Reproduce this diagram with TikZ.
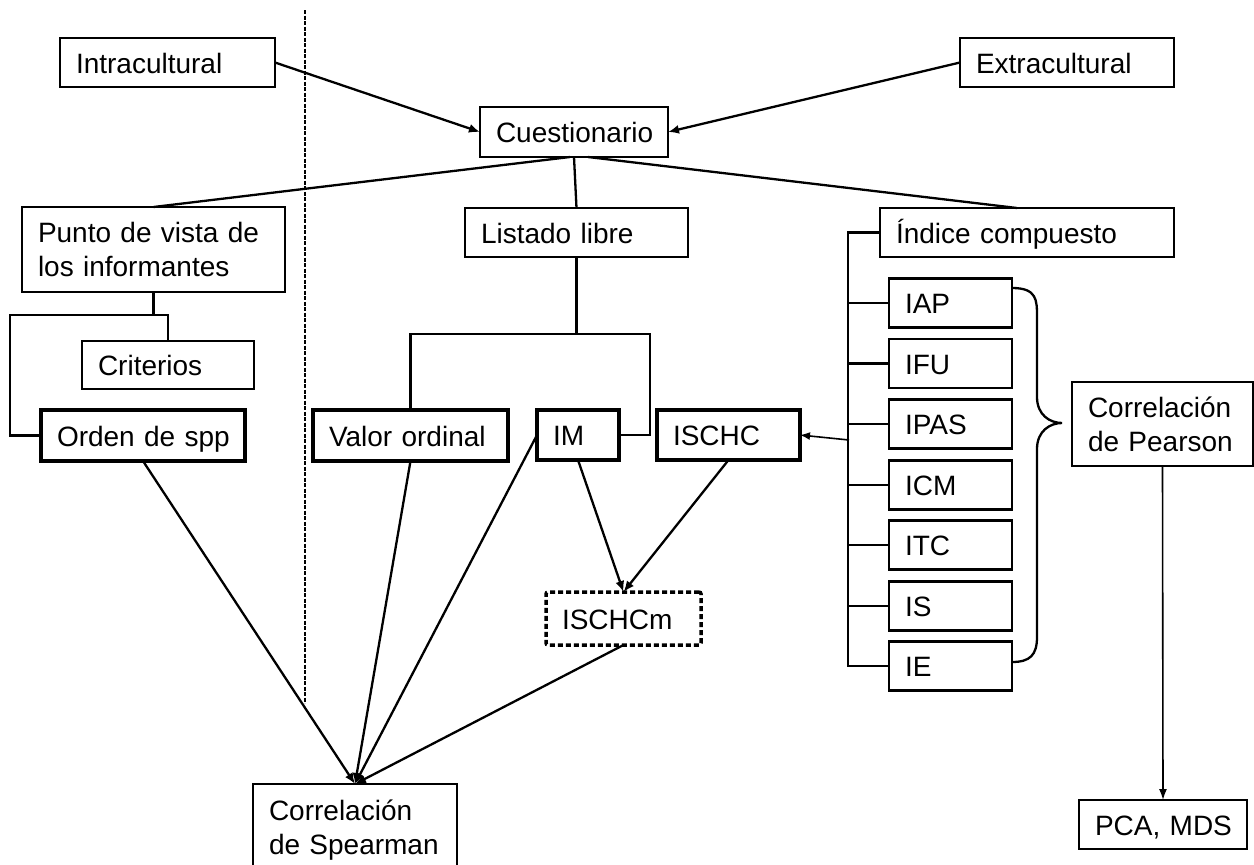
\documentclass[tikz,border=0pt]{standalone}
\usepackage{fontspec}
\setmainfont{Liberation Sans}
\usetikzlibrary{arrows.meta,calc}
\begin{document}
\begin{tikzpicture}[x=1pt,y=-1pt,
  bx/.style={draw, line width=2.3pt, rectangle, outer sep=0pt, inner xsep=16pt, inner ysep=0pt,
    align=left, font=\fontsize{28}{34}\selectfont},
  one/.style={text height=27pt, text depth=6pt},
  thickbx/.style={bx, one, line width=3.2pt},
  idxbx/.style={bx, one, line width=2.6pt, text width=91pt, minimum height=49pt},
  dashbx/.style={bx, one, line width=3.5pt, dash pattern=on 5pt off 3pt, rounded corners=2pt},
  conn/.style={line width=2.3pt},
  arr/.style={line width=2.3pt, -{Latex[length=11pt,width=9pt]}},
  thinarr/.style={line width=1.6pt, -{Latex[length=11pt,width=8pt]}},
  sep/.style={line width=2.2pt, dash pattern=on 4pt off 1.5pt}
]
\clip (0,0) rectangle (1254,865);
\fill[white] (0,0) rectangle (1254,865);

% separator
\coordinate (sepTop) at (305,10);
\coordinate (sepBot) at (305,703);
\draw[sep] (sepTop) -- (sepBot);

% top row
\node[bx, one, text width=183pt, minimum height=49pt] (intra) at (167.5,62.5) {Intracultural};
\node[bx, one, text width=182pt, minimum height=49pt] (extra) at (1067,62.5) {Extracultural};
\node[bx, one, text width=156pt, minimum height=50pt] (cuest) at (574,132) {Cuestionario};

% second row
\node[bx, text width=231pt, minimum height=85pt] (punto) at (153.5,249.5) {Punto de vista de\\los informantes};
\node[bx, one, text width=191pt, minimum height=49pt] (listado) at (576.5,232.5) {Listado libre};
\node[bx, one, text width=262pt, minimum height=49pt] (indice) at (1027,232.5) {Índice compuesto};

% left branch
\node[bx, one, text width=140pt, minimum height=48pt] (crit) at (168,365) {Criterios};
\node[thickbx, text width=172pt, minimum height=51pt] (orden) at (143,435.5) {\mbox{Orden de spp}};

% middle branch
\node[thickbx, text width=163pt, minimum height=51pt] (valor) at (410.5,435.5) {\mbox{Valor ordinal}};
\node[thickbx, text width=50pt, minimum height=50pt] (im) at (578,435) {IM};
\node[thickbx, text width=111pt, minimum height=50pt] (ischc) at (728.5,435) {ISCHC};
\node[dashbx, text width=123pt, minimum height=53pt] (ischcm) at (623.5,618.5) {ISCHCm};
\node[bx, text width=172pt, minimum height=92pt] (spear) at (355,830) {Correlación\\\mbox{de Spearman}};

% indices
\node[idxbx] (iap) at (950.5,303) {IAP};
\node[idxbx] (ifu) at (950.5,363.5) {IFU};
\node[idxbx] (ipas) at (950.5,424) {IPAS};
\node[idxbx] (icm) at (950.5,485) {ICM};
\node[idxbx] (itc) at (950.5,545) {ITC};
\node[idxbx] (is) at (950.5,606) {IS};
\node[idxbx] (ie) at (950.5,666) {IE};

\node[bx, text width=149pt, minimum height=84pt] (pearson) at (1162.5,424) {Correlación\\\mbox{de Pearson}};
\node[bx, one, text width=136pt, minimum height=49pt] (pca) at (1163,824.5) {\mbox{PCA, MDS}};

% top arrows
\draw[arr] (intra.east) -- (cuest.west);
\draw[arr] (extra.west) -- (cuest.east);

% from Cuestionario
\draw[conn] ([xshift=-4pt]cuest.south) -- (punto.north);
\draw[conn] (cuest.south) -- (listado.north);
\draw[conn] ([xshift=14pt]cuest.south) -- ([xshift=-10pt]indice.north);

% left tree
\coordinate (pl) at (10,315);
\coordinate (pr) at (168,315);
\draw[conn] (punto.south) -- (punto.south |- pl);
\draw[conn] (orden.west) -| (pl) -| (crit.north);

% middle tree
\coordinate (lr) at (650,334);
\draw[conn] (listado.south) -- (listado.south |- lr);
\draw[conn] (valor.north) |- (lr) |- (im.east);

% index bar
\coordinate (bar) at (848,0);
\draw[line width=2.8pt] (indice.west) -- (indice.west -| bar) -- (ie.west -| bar) -- (ie.west);
\draw[line width=1.4pt] (iap.west) -- (iap.west -| bar);
\foreach \n in {ifu,ipas,icm,itc,is}{
  \draw[line width=2.6pt] (\n.west) -- (\n.west -| bar);
}
\coordinate (ba) at (849,440);
\draw[line width=1.6pt, -{Latex[length=10pt,width=8pt]}] (ba) -- (ischc.east);

% to ISCHCm
\draw[arr] (im.south) -- (ischcm.north);
\draw[arr] (ischc.south) -- (ischcm.north);

% to Spearman
\draw[arr] (orden.south) -- (spear.north);
\draw[arr] (valor.south) -- (spear.north);
\draw[arr] (im.west) -- (spear.north);
\draw[arr] (ischcm.south) -- (spear.north);

% brace
\coordinate (brTop) at (1012,288);
\coordinate (brTip) at (1062,423);
\coordinate (brBot) at (1012,662);
\draw[line width=2.3pt] (brTop) .. controls (1037,288) and (1037,300) .. (1037,317) -- (1037,397)
  .. controls (1037,415) and (1050,423) .. (brTip)
  .. controls (1050,423) and (1037,431) .. (1037,449) -- (1037,637)
  .. controls (1037,655) and (1030,662) .. (brBot);

% Pearson to PCA
\draw[thinarr] (pearson.south) -- (pca.north);
\end{tikzpicture}
\end{document}
